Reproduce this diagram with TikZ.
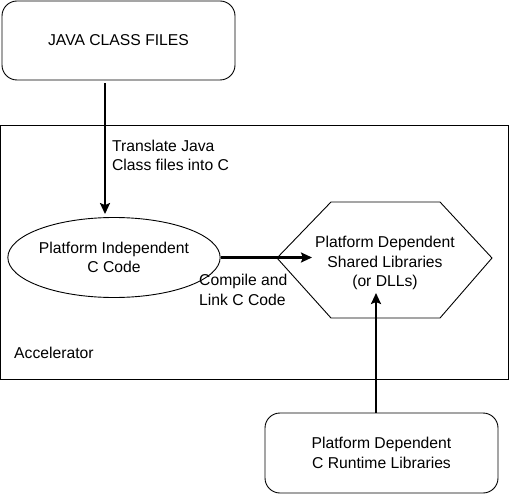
\documentclass[tikz,border=0pt]{standalone}
\usepackage{fontspec}
\setmainfont{Liberation Sans}
\usetikzlibrary{shapes,arrows.meta,calc,positioning}
\tikzset{
        block/.style = {draw, rectangle, rounded corners=15pt,
            line width=0.9pt,
            minimum height=79pt,
            minimum width=233pt, align=center},
        ccode/.style = {draw, ellipse, line width=0.9pt,
            minimum width=194pt, minimum height=80pt,
            inner sep=0pt, align=center},
        lbl/.style = {align=left, inner sep=0pt},
        arrow/.style={draw, line width=2.2pt,
            -{Stealth[length=11pt,width=10pt,inset=2pt]}},
    }

\begin{document}
\begin{tikzpicture}[x=1pt,y=-1pt,font=\fontsize{15.7}{19.5}\selectfont]
    \useasboundingbox (0,0) rectangle (510,494);

    % accelerator frame
    \draw[line width=0.9pt] (0.5,125) rectangle (508,379);
    \node[lbl, anchor=west] (acc) at (14,353) {Accelerator};

    \node[block] (java) at (118.5,40.5) {JAVA CLASS FILES};
    \node[ccode] (pic) at (114,257.5) {Platform Independent\\C Code};
    \node[align=center, inner sep=3pt] (shlib) at (385,263)
        {Platform Dependent\\Shared Libraries\\(or DLLs)};
    \node[block, minimum height=80pt] (rt) at (381.5,453)
        {Platform Dependent\\C Runtime Libraries};

    % hexagon round the shared libraries
    \draw[line width=0.9pt] ($(shlib)+(-108,-5)$) -- ($(shlib)+(-54,-61)$)
        -- ($(shlib)+(55,-61)$) -- ($(shlib)+(107,-5)$)
        -- ($(shlib)+(55,55)$) -- ($(shlib)+(-54,55)$) -- cycle;

    \draw[arrow] ([xshift=-13.5pt,yshift=-3pt]java.south)
        -- ([xshift=-9pt,yshift=3pt]pic.north)
        node[lbl, pos=0.55, right=6pt] (trans) {Translate Java\\Class files into C};
    \draw[arrow] (pic.east) -- (pic.east -| shlib.west);
    \node[lbl, anchor=west] (comp) at (199,290) {Compile and\\Link C Code};
    \draw[arrow] ([xshift=-5.5pt]rt.north) -- ([xshift=-5.5pt]rt.north |- shlib.south);
\end{tikzpicture}
\end{document}
